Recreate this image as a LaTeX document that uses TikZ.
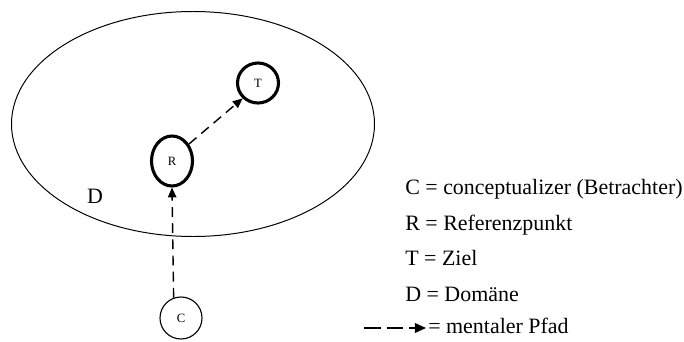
\documentclass[tikz,border=0pt]{standalone}
\usepackage{fontspec}
\setmainfont{Liberation Serif}
\usetikzlibrary{arrows.meta,positioning,calc,shapes}

\begin{document}
\begin{tikzpicture}[
    x=0.025cm, y=-0.025cm,
    every node/.style={font=\fontsize{15.6}{18}\selectfont},
    ring/.style={ellipse, draw, line width=2.2pt, inner sep=0pt, font=\fontsize{9}{10}\selectfont},
    thinring/.style={circle, draw, line width=0.8pt, inner sep=0pt, minimum size=42*0.025cm, font=\fontsize{9}{10}\selectfont},
    mental/.style={dashed, dash pattern=on 7pt off 4.5pt, line width=1pt, -{Triangle[length=7pt,width=6pt]}},
    legendpath/.style={dash pattern=on 12pt off 4pt, line width=1pt, -{Triangle[length=8pt,width=7pt]}},
    legend/.style={anchor=base west, inner sep=0pt},
]
    \useasboundingbox (0,0) rectangle (684,342);

    % Domain
    \node[ellipse, draw, line width=0.7pt, minimum width=363*0.025cm, minimum height=225*0.025cm] (dom) at (193,124) {};
    \node (D) at (95,196) {D};

    % Reference point, target, conceptualizer
    \node[ring, minimum width=41*0.025cm, minimum height=40*0.025cm] (T) at (258,83) {T};
    \node[ring, minimum width=41*0.025cm, minimum height=50*0.025cm] (R) at (172,161) {R};
    \node[thinring] (C) at (181,318) {C};

    % Mental paths
    \draw[mental] (C.110) -- (R.south);
    \draw[mental] (R.45) -- (T.225);

    % Legend
    \node[legend] (lc) at (405,194) {C = conceptualizer (Betrachter)};
    \node[legend] (lr) at (405,230) {R = Referenzpunkt};
    \node[legend] (lt) at (405,265) {T = Ziel};
    \node[legend] (ld) at (405,301) {D = Domäne};
    \node[legend] (lp) at (428,333) {= mentaler Pfad};
    \coordinate (ps) at (364,328);
    \draw[legendpath] (ps) -- ($(lp.base west)+(-2,-5)$);
\end{tikzpicture}
\end{document}
